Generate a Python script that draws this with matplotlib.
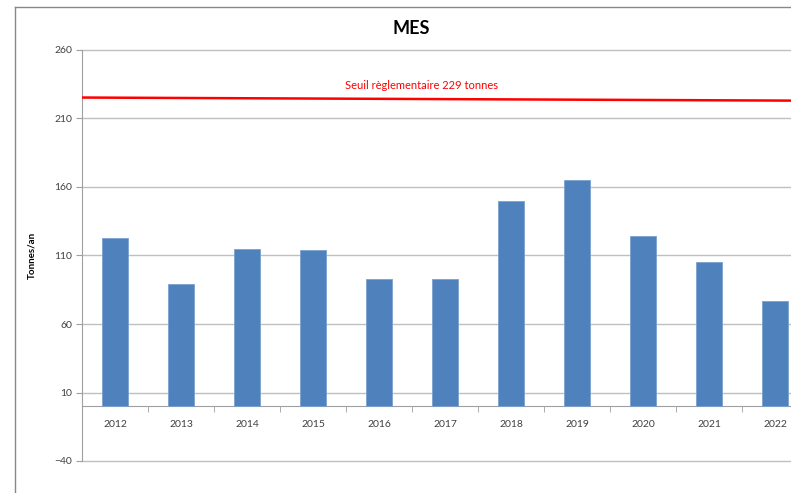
import numpy as np
import matplotlib.pyplot as plt
from matplotlib.lines import Line2D
from matplotlib.ticker import MultipleLocator

years = ['2012', '2013', '2014', '2015', '2016', '2017', '2018', '2019', '2020', '2021', '2022']
mes = [122.5, 89.5, 114.5, 114, 92.5, 92.5, 150, 165, 124.5, 105, 76.5]
seuil_ends = [225.3, 223.0]
seuil_label = 'Seuil règlementaire 229 tonnes'

plt.rcParams['font.family'] = ['Lato', 'DejaVu Sans']

fig = plt.figure(figsize=(7.91, 4.93), dpi=100)
# outer chart frame (cut off at the right and bottom like the source screenshot)
fx, fy = 14.5 / 791, 1 - 6.5 / 493
fig.lines.append(Line2D([fx, fx], [0, fy], transform=fig.transFigure, color='#888888', linewidth=1.0))
fig.lines.append(Line2D([fx, 1], [fy, fy], transform=fig.transFigure, color='#888888', linewidth=1.0))

ax = fig.add_axes([82 / 791, 32 / 493, 726 / 791, 411 / 493])
x = np.arange(len(years))
ax.bar(x, mes, width=0.4, color='#4f81bd', edgecolor='#7ba0d0', linewidth=0.6, zorder=3)
ax.plot([-0.5, len(years) - 0.5], seuil_ends, color='#ff0000', linewidth=1.8, zorder=4)
ax.text(4.65, 234, seuil_label, color='#ff0000', fontsize=8, ha='center', va='center')

ax.set_xlim(-0.5, len(years) - 0.5)
ax.set_ylim(-40, 260)
ax.set_yticks(np.arange(-40, 261, 50))
ax.yaxis.grid(True, color='#c0c0c0', linewidth=1.0, zorder=0)
ax.set_axisbelow(True)
for gl in ax.get_ygridlines():
    gl.set_clip_on(False)

ax.spines['top'].set_visible(False)
ax.spines['right'].set_visible(False)
ax.spines['left'].set_color('#a0a0a0')
ax.spines['bottom'].set_position(('data', 0))
ax.spines['bottom'].set_color('#a0a0a0')

ax.set_xticks(x)
ax.set_xticklabels(years)
ax.set_xticks(np.arange(-0.5, len(years), 1), minor=True)
ax.tick_params(axis='x', which='major', length=0, pad=10, labelsize=7.5, labelcolor='#404040')
ax.tick_params(axis='x', which='minor', length=4, direction='out', color='#a0a0a0')
ax.tick_params(axis='y', length=4, color='#a0a0a0', labelsize=7.5, labelcolor='#404040', pad=3)

ax.set_ylabel('Tonnes/an', fontsize=7, fontweight='bold', labelpad=13)
fig.text(411 / 791, 1 - 28 / 493, 'MES', fontsize=13, fontweight='bold', ha='center', va='center')

fig.savefig('out.png', dpi=100)
